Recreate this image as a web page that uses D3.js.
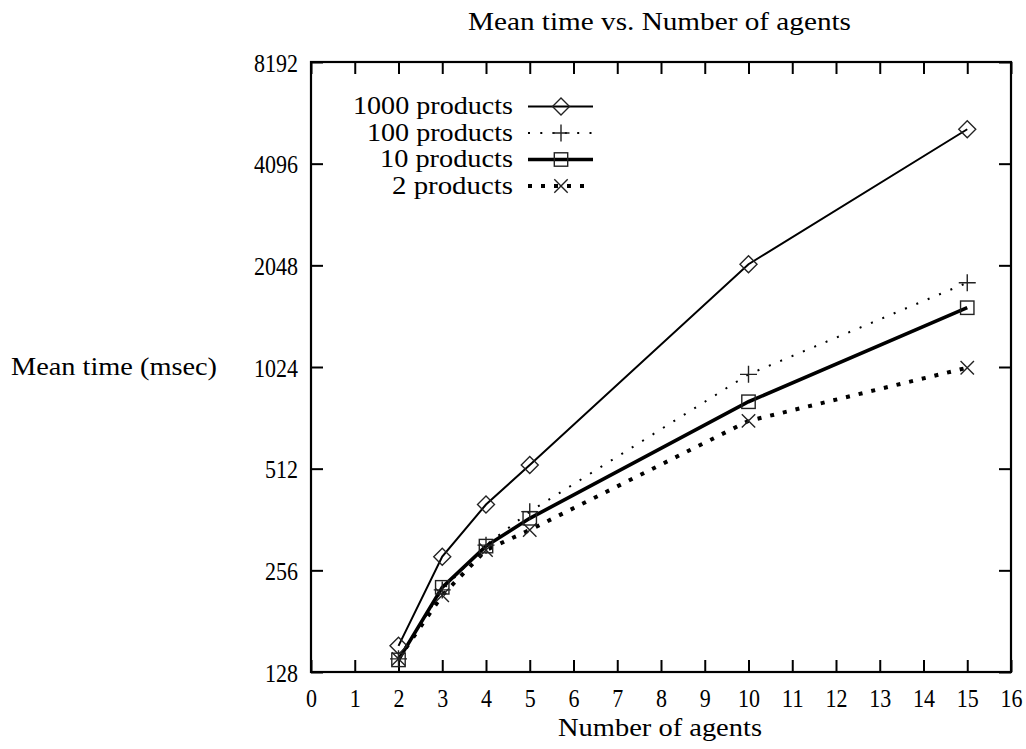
<!DOCTYPE html>
<html><head><meta charset="utf-8">
<script src="https://cdn.jsdelivr.net/npm/d3@7"></script>
<style>body{margin:0;background:#fff}svg{display:block}text{font-family:"Liberation Serif","Times New Roman",serif;fill:#000}</style>
</head><body><svg id="c" width="1026" height="749"></svg>
<script>
const agents = [2, 3, 4, 5, 10, 15];
const p1000 = [153, 281, 401, 525, 2063, 5180];
const p100 = [140, 224, 304, 382, 974, 1819];
const p10 = [139, 228, 302, 365, 808, 1534];
const p2 = [140, 216, 294, 337, 709, 1019];
const xTicks = d3.range(0, 17);
const yTicks = [128, 256, 512, 1024, 2048, 4096, 8192];
const seriesNames = ["1000 products", "100 products", "10 products", "2 products"];
const title = "Mean time vs. Number of agents";
const xLabel = "Number of agents";
const yLabel = "Mean time (msec)";

const svg = d3.select("#c");
const L = 311, R = 1011, T = 62, B = 672;
const x = d3.scaleLinear().domain([0, 16]).range([L, R]);
const y = d3.scaleLog().base(2).domain([128, 8192]).range([B, T]);
const FS = 25;
const DIGIT_W = 11;

const styles = [
  {w: 2, dash: null, m: "diamond"},
  {w: 2, dash: "2,10.3", m: "plus"},
  {w: 3.6, dash: null, m: "square"},
  {w: 4, dash: "4,9", m: "cross"}
];
const data = [p1000, p100, p10, p2];

function fitDigits(sel) {
  sel.each(function () {
    const t = d3.select(this);
    t.attr("textLength", t.text().length * DIGIT_W).attr("lengthAdjust", "spacingAndGlyphs");
  });
}

// ticks
const tk = 12;
const g = svg.append("g");
g.append("g").attr("transform", `translate(0,${B})`)
  .call(d3.axisBottom(x).tickValues(xTicks).tickSize(-tk).tickPadding(0).tickFormat(d3.format("d")))
  .call(a => { a.select(".domain").remove(); a.selectAll("line").attr("stroke-width", 2);
    a.selectAll("text").attr("font-size", FS).attr("y", 35).attr("dy", null).style("font-family", '"Liberation Serif",serif').call(fitDigits); });
g.append("g").attr("transform", `translate(0,${T})`)
  .call(d3.axisTop(x).tickValues(xTicks).tickSize(-tk).tickFormat(""))
  .call(a => { a.select(".domain").remove(); a.selectAll("line").attr("stroke-width", 2); });
g.append("g").attr("transform", `translate(${L},0)`)
  .call(d3.axisLeft(y).tickValues(yTicks).tickSize(-tk).tickPadding(13).tickFormat(d3.format("d")))
  .call(a => { a.select(".domain").remove(); a.selectAll("line").attr("stroke-width", 2);
    a.selectAll("text").attr("font-size", FS).attr("dy", null).attr("y", 9).style("font-family", '"Liberation Serif",serif').call(fitDigits); });
g.append("g").attr("transform", `translate(${R},0)`)
  .call(d3.axisRight(y).tickValues(yTicks).tickSize(-tk).tickFormat(""))
  .call(a => { a.select(".domain").remove(); a.selectAll("line").attr("stroke-width", 2); });
svg.selectAll(".tick text").attr("fill", "#000");
svg.selectAll(".tick line").attr("stroke", "#000");

// frame
svg.append("rect").attr("x", L).attr("y", T).attr("width", R - L).attr("height", B - T)
  .attr("fill", "none").attr("stroke", "#000").attr("stroke-width", 2.2);

// markers
function marker(sel, type, cx, cy) {
  const c = "#222", sw = 1.4;
  if (type === "diamond") {
    const s = 8.5;
    sel.append("path").attr("d", `M${cx},${cy - s}L${cx + s},${cy}L${cx},${cy + s}L${cx - s},${cy}Z`)
      .attr("fill", "none").attr("stroke", c).attr("stroke-width", sw);
  } else if (type === "plus") {
    const s = 8.5;
    sel.append("path").attr("d", `M${cx - s},${cy}H${cx + s}M${cx},${cy - s}V${cy + s}`)
      .attr("fill", "none").attr("stroke", c).attr("stroke-width", sw);
  } else if (type === "square") {
    const s = 6.7;
    sel.append("rect").attr("x", cx - s).attr("y", cy - s).attr("width", 2 * s).attr("height", 2 * s)
      .attr("fill", "none").attr("stroke", c).attr("stroke-width", sw);
  } else {
    const s = 6.7;
    sel.append("path").attr("d", `M${cx - s},${cy - s}L${cx + s},${cy + s}M${cx - s},${cy + s}L${cx + s},${cy - s}`)
      .attr("fill", "none").attr("stroke", c).attr("stroke-width", sw);
  }
}

const line = d3.line().x((d, i) => x(agents[i])).y(d => y(d));
const plot = svg.append("g");
data.forEach((vals, k) => {
  const st = styles[k];
  plot.append("path").datum(vals).attr("d", line).attr("fill", "none").attr("stroke", "#000")
    .attr("stroke-width", st.w).attr("stroke-dasharray", st.dash);
});
data.forEach((vals, k) => {
  vals.forEach((v, i) => marker(plot, styles[k].m, x(agents[i]), y(v)));
});

// legend
const lg = svg.append("g");
const rowY = [106.5, 133, 159.5, 186];
const legendW = [160, 146, 133, 121];
seriesNames.forEach((n, k) => {
  const st = styles[k];
  const yy = rowY[k];
  lg.append("text").attr("x", 513).attr("y", yy + 7.5).attr("text-anchor", "end").attr("font-size", FS)
    .attr("textLength", legendW[k]).attr("lengthAdjust", "spacingAndGlyphs").text(n);
  lg.append("line").attr("x1", 528).attr("x2", 593).attr("y1", yy).attr("y2", yy)
    .attr("stroke", "#000").attr("stroke-width", st.w).attr("stroke-dasharray", st.dash);
  marker(lg, st.m, 561, yy);
});

// labels
svg.append("text").attr("x", 659.5).attr("y", 30).attr("text-anchor", "middle").attr("font-size", FS)
  .attr("textLength", 383).attr("lengthAdjust", "spacingAndGlyphs").text(title);
svg.append("text").attr("x", 660).attr("y", 736).attr("text-anchor", "middle").attr("font-size", FS)
  .attr("textLength", 204).attr("lengthAdjust", "spacingAndGlyphs").text(xLabel);
svg.append("text").attr("x", 114).attr("y", 375).attr("text-anchor", "middle").attr("font-size", FS)
  .attr("textLength", 206).attr("lengthAdjust", "spacingAndGlyphs").text(yLabel);
</script></body></html>
